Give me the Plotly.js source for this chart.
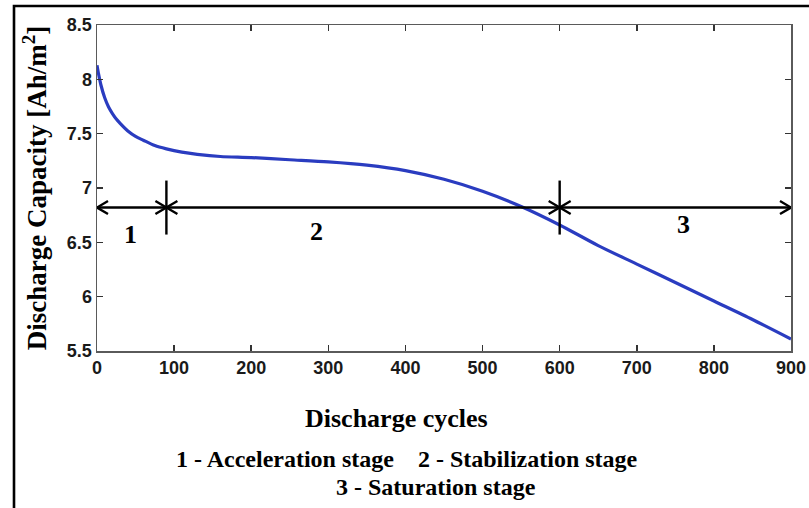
<!DOCTYPE html>
<html>
<head>
<meta charset="utf-8">
<script src="https://cdn.plot.ly/plotly-3.0.1.min.js"></script>
<style>
  html, body { margin: 0; padding: 0; background: #ffffff; }
  #chart { width: 809px; height: 508px; }
</style>
</head>
<body>
<div id="chart"></div>
<script>
// ---- data ----
const cycles = [0, 2, 5, 10, 15, 20, 25, 30, 40, 50, 60, 75, 90, 110, 130, 160, 200, 250, 300, 350, 400, 450, 500, 550, 600, 650, 700, 750, 800, 850, 900];
const capacity = [8.13, 8.05, 7.95, 7.83, 7.745, 7.685, 7.635, 7.595, 7.525, 7.475, 7.44, 7.39, 7.36, 7.33, 7.31, 7.29, 7.28, 7.26, 7.24, 7.21, 7.16, 7.08, 6.97, 6.83, 6.66, 6.47, 6.30, 6.13, 5.96, 5.79, 5.61];

const xTicks = [0, 100, 200, 300, 400, 500, 600, 700, 800, 900];
const yTicks = [5.5, 6, 6.5, 7, 7.5, 8, 8.5];
const yTickText = ['5.5', '6', '6.5', '7', '7.5', '8', '8.5'];

const stageBounds = [0, 90, 600, 900];   // cycles where stages start/end
const arrowLevel = 6.82;                 // capacity level of the stage arrows
const stageNames = ['1', '2', '3'];
const stageLabelX = [44, 285, 760];
const stageLabelY = [6.57, 6.60, 6.66];

const xTitle = 'Discharge cycles';
const yTitle = 'Discharge Capacity [Ah/m<sup>2</sup>]';
const noteLine1 = '1 - Acceleration stage\u00a0\u00a0\u00a0\u00a02 - Stabilization stage';
const noteLine2 = '3 - Saturation stage';

// ---- layout geometry ----
const W = 809, H = 508;
const M = { l: 97, r: 18, t: 25, b: 157 };
const pw = W - M.l - M.r, ph = H - M.t - M.b;
const pxX = px => (px - M.l) / pw;
const pxY = py => (H - M.b - py) / ph;

const serif = 'Liberation Serif, Times New Roman, serif';
const sans = 'Liberation Sans, Arial, sans-serif';

const trace = {
  x: cycles, y: capacity, type: 'scatter', mode: 'lines',
  line: { color: '#2a3cc0', width: 3.2, shape: 'spline', smoothing: 0.8 },
  hoverinfo: 'x+y'
};

const shapes = [];
// outer frame
shapes.push({ type: 'rect', xref: 'paper', yref: 'paper',
  x0: pxX(14), x1: pxX(812), y0: pxY(6), y1: pxY(520),
  line: { color: '#000', width: 2.6 }, fillcolor: 'rgba(0,0,0,0)', layer: 'above' });
// horizontal arrow line
shapes.push({ type: 'line', xref: 'x', yref: 'y',
  x0: stageBounds[0], x1: stageBounds[stageBounds.length - 1], y0: arrowLevel, y1: arrowLevel,
  line: { color: '#000', width: 2.4 } });
// vertical separators at inner bounds
stageBounds.slice(1, -1).forEach(b => {
  shapes.push({ type: 'path', xref: 'x', yref: 'y', xsizemode: 'pixel', ysizemode: 'pixel',
    xanchor: b, yanchor: arrowLevel, path: 'M0,-27 L0,27',
    line: { color: '#000', width: 2.4 } });
});
// chevron arrowheads
const rightHead = 'M-11,-6.5 L0,0 L-11,6.5';
const leftHead = 'M11,-6.5 L0,0 L11,6.5';
stageBounds.forEach((b, i) => {
  if (i > 0) shapes.push({ type: 'path', xref: 'x', yref: 'y', xsizemode: 'pixel', ysizemode: 'pixel',
    xanchor: b, yanchor: arrowLevel, path: rightHead, line: { color: '#000', width: 2.4 } });
  if (i < stageBounds.length - 1) shapes.push({ type: 'path', xref: 'x', yref: 'y', xsizemode: 'pixel', ysizemode: 'pixel',
    xanchor: b, yanchor: arrowLevel, path: leftHead, line: { color: '#000', width: 2.4 } });
});

const annotations = stageNames.map((s, i) => ({
  x: stageLabelX[i], y: stageLabelY[i], xref: 'x', yref: 'y', text: s, showarrow: false,
  font: { family: serif, size: 26, weight: 'bold', color: '#000' }
}));
annotations.push({ xref: 'paper', yref: 'paper', x: pxX(396), y: pxY(419), text: xTitle,
  showarrow: false, xanchor: 'center', yanchor: 'middle',
  font: { family: serif, size: 26, weight: 'bold', color: '#000' } });
annotations.push({ xref: 'paper', yref: 'paper', x: pxX(407), y: pxY(459), text: noteLine1,
  showarrow: false, xanchor: 'center', yanchor: 'middle',
  font: { family: serif, size: 24, weight: 'bold', color: '#000' } });
annotations.push({ xref: 'paper', yref: 'paper', x: pxX(436), y: pxY(487), text: noteLine2,
  showarrow: false, xanchor: 'center', yanchor: 'middle',
  font: { family: serif, size: 24, weight: 'bold', color: '#000' } });

const axisCommon = {
  showline: true, linecolor: '#5a5a5a', linewidth: 1.5, mirror: 'ticks',
  ticks: 'inside', ticklen: 6, tickwidth: 1.5, tickcolor: '#333',
  showgrid: false, zeroline: false, automargin: false,
  tickfont: { family: sans, size: 18, weight: 'bold', color: '#1a1a1a' }
};

const layout = {
  width: W, height: H, margin: M,
  paper_bgcolor: '#fff', plot_bgcolor: '#fff', showlegend: false,
  xaxis: Object.assign({}, axisCommon, {
    range: [0, 900], tickmode: 'array', tickvals: xTicks
  }),
  yaxis: Object.assign({}, axisCommon, {
    range: [5.5, 8.5], tickmode: 'array', tickvals: yTicks, ticktext: yTickText,
    title: { text: yTitle, standoff: 12, font: { family: serif, size: 27, weight: 'bold', color: '#000' } }
  }),
  shapes: shapes, annotations: annotations
};

Plotly.newPlot('chart', [trace], layout, { displayModeBar: false, staticPlot: true });
</script>
</body>
</html>
